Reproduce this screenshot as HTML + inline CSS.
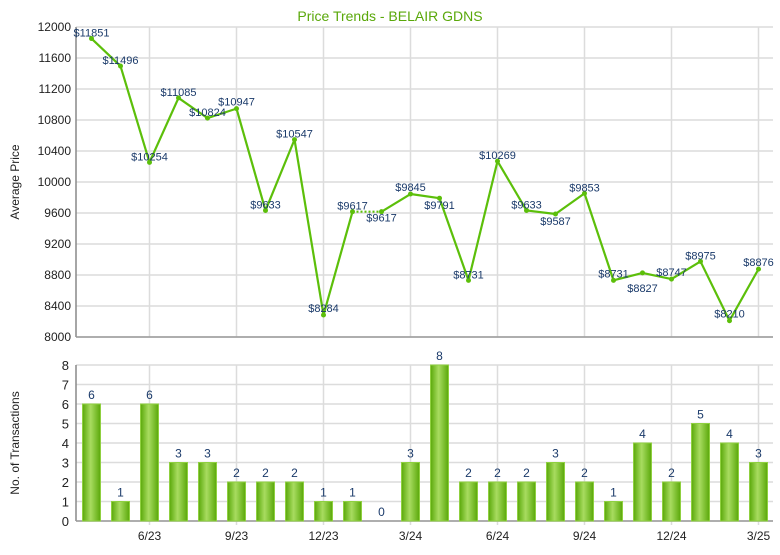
<!DOCTYPE html>
<html><head><meta charset="utf-8"><style>
body{margin:0;background:#fff;width:780px;height:550px;overflow:hidden}
svg{font-family:"Liberation Sans",Arial,sans-serif}
</style></head><body>
<svg id="c" width="780" height="550">
<defs><linearGradient id="bg" x1="0" x2="1" y1="0" y2="0">
<stop offset="0" stop-color="#5aa80a"/><stop offset="0.45" stop-color="#a8dc60"/><stop offset="1" stop-color="#5aa80a"/></linearGradient></defs>
<text x="390" y="21" text-anchor="middle" font-size="14" fill="#5aa80a">Price Trends - BELAIR GDNS</text>
<text transform="translate(19,182) rotate(-90)" text-anchor="middle" font-size="12" fill="#222">Average Price</text>
<text transform="translate(19,443) rotate(-90)" text-anchor="middle" font-size="12" fill="#222">No. of Transactions</text>
<g id="gtop"></g><g id="gbot"></g>
</svg>
<script>
const prices=[11851,11496,10254,11085,10824,10947,9633,10547,8284,9617,9617,9845,9791,8731,10269,9633,9587,9853,8731,8827,8747,8975,8210,8876];
const counts=[6,1,6,3,3,2,2,2,1,1,0,3,8,2,2,2,3,2,1,4,2,5,4,3];
const xLabels=["6/23","9/23","12/23","3/24","6/24","9/24","12/24","3/25"];
const xLabelIdx=[2,5,8,11,14,17,20,23];
const priceTicks=[8000,8400,8800,9200,9600,10000,10400,10800,11200,11600,12000];
const countTicks=[0,1,2,3,4,5,6,7,8];
const labelDy=[-6,-6,-6,-6,-6,-7,-6,-6,-7,-6,6,-7,7,-6,-6,-6,7,-6,-7,15,-7,-6,-7,-7];
const NS="http://www.w3.org/2000/svg";
const L=76,R=773;
const xs=i=>91.5+i*29;
const yP=v=>337-(v-8000)/4000*310;
const yC=v=>521-v/8*156;
function mk(p,tag,a,t){const e=document.createElementNS(NS,tag);for(const k in a)e.setAttribute(k,a[k]);if(t!==undefined)e.textContent=t;p.appendChild(e);return e;}
const gTop=document.getElementById('gtop'),gBot=document.getElementById('gbot');
priceTicks.forEach(v=>{
 const g=mk(gTop,'line',{x1:L,x2:R,y1:yP(v),y2:yP(v),stroke:'#dcdcdc','stroke-width':1.5});
 
 
 const t=mk(gTop,'text',{x:L-5,y:yP(v)+4,'text-anchor':'end','font-size':12,fill:'#222'},v);
 
 
});
countTicks.forEach(v=>{
 const g=mk(gBot,'line',{x1:L,x2:R,y1:yC(v),y2:yC(v),stroke:'#dcdcdc','stroke-width':1.5});
 
 
 const t=mk(gBot,'text',{x:L-7,y:yC(v)+5,'text-anchor':'end','font-size':13,fill:'#222'},v);
 
 
});
xLabelIdx.forEach((i,k)=>{
 const a=mk(gTop,'line',{x1:xs(i),x2:xs(i),y1:27,y2:337,stroke:'#dcdcdc','stroke-width':1.5});
 
 
 const b=mk(gBot,'line',{x1:xs(i),x2:xs(i),y1:365,y2:525,stroke:'#dcdcdc','stroke-width':1.5});
 
 
 const t=mk(gBot,'text',{x:xs(i),y:540,'text-anchor':'middle','font-size':12,fill:'#222'},xLabels[k]);
 
 
});
[[gTop,27,337],[gBot,365,521]].forEach(([g,y1,y2])=>{
 const a=mk(g,'line',{x1:L,x2:L,y1:y1,y2:y2,stroke:'#888','stroke-width':1.5});
 
 
 const b=mk(g,'line',{x1:L,x2:R,y1:y2,y2:y2,stroke:'#999','stroke-width':1.5});
 
 
});
for(let i=0;i<prices.length-1;i++){
 const s=mk(gTop,'line',{x1:xs(i),y1:yP(prices[i]),x2:xs(i+1),y2:yP(prices[i+1]),stroke:'#5cbf0a','stroke-width':2.2});
 if(counts[i+1]===0)s.setAttribute('stroke-dasharray','2,2');
 
 
}
prices.forEach((v,i)=>{
 const c=mk(gTop,'circle',{cx:xs(i),cy:yP(v),r:2.5,fill:'#5cbf0a'});
 
 
 const t=mk(gTop,'text',{x:xs(i),y:yP(v)+labelDy[i]+4,'text-anchor':'middle','font-size':11,fill:'#1a3a6a'},'$'+v);
 
 
});
counts.forEach((v,i)=>{
 if(v>0){const r=mk(gBot,'rect',{x:xs(i)-9,y:yC(v),width:18,height:yC(0)-yC(v),fill:'url(#bg)',stroke:'#8fd040','stroke-width':1});
 
 }
 const t=mk(gBot,'text',{x:xs(i),y:yC(v)-5,'text-anchor':'middle','font-size':12,fill:'#1a3a6a'},v);
 
 
});
</script>
</body></html>
